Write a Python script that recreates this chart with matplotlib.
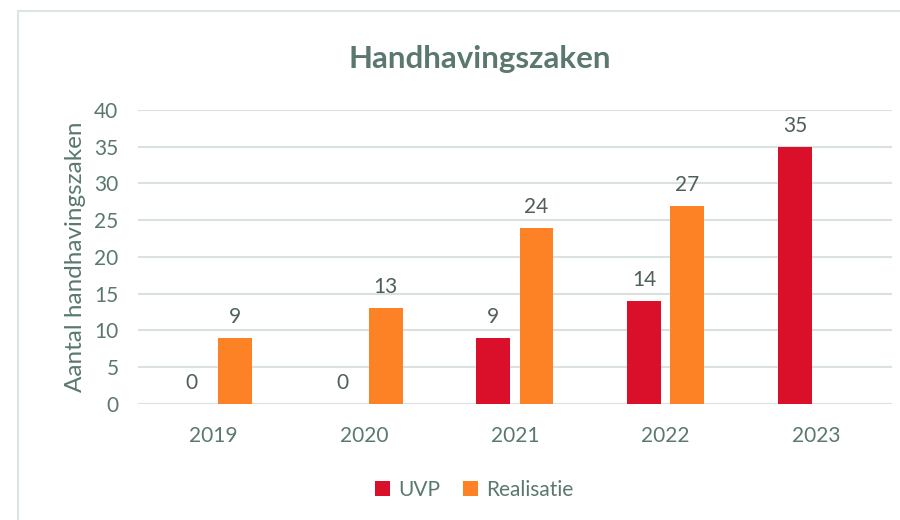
import matplotlib.pyplot as plt
import numpy as np
from matplotlib.lines import Line2D

# Data
years = ["2019", "2020", "2021", "2022", "2023"]
uvp = [0, 0, 9, 14, 35]
realisatie = [9, 13, 24, 27, None]

text_color = "#5b7870"
grid_color = "#d9e2de"
red = "#da0f2a"
orange = "#fd8226"

plt.rcParams['font.family'] = ['Lato', 'DejaVu Sans']

fig = plt.figure(figsize=(9, 5.2), dpi=100)
ax = fig.add_axes([0.1533, 0.2231, 0.8377, 0.5654])

# Outer chart border (top and left only visible)
bx, by = 18 / 900, 1 - 11 / 520
fig.lines.append(Line2D([bx, bx], [0, by], transform=fig.transFigure, color="#dde5e1", linewidth=1.5))
fig.lines.append(Line2D([bx, 1], [by, by], transform=fig.transFigure, color="#dde5e1", linewidth=1.5))

x = np.arange(len(years))
w = 0.225
off = 0.143

uvp_vals = [np.nan if v is None else v for v in uvp]
real_vals = [np.nan if v is None else v for v in realisatie]

b1 = ax.bar(x - off, uvp_vals, w, color=red, label="UVP", zorder=3)
b2 = ax.bar(x + off, real_vals, w, color=orange, label="Realisatie", zorder=3)

# Data labels
for xs, vals in ((x - off, uvp), (x + off, realisatie)):
    for xi, v in zip(xs, vals):
        if v is None:
            continue
        ax.text(xi, v + 1.5, str(v), ha="center", va="bottom", fontsize=15, color="#4f5f5a")

ax.set_xlim(-0.5, len(years) - 0.5)
ax.set_ylim(0, 40)
ax.set_yticks(range(0, 41, 5))
ax.set_xticks(x)
ax.set_xticklabels(years)
ax.yaxis.grid(True, color=grid_color, linewidth=1.5, zorder=0)
ax.tick_params(axis="both", length=0, labelsize=15, colors=text_color)
ax.tick_params(axis="x", pad=16)
ax.tick_params(axis="y", pad=14)
for s in ax.spines.values():
    s.set_visible(False)

ax.set_ylabel("Aantal handhavingszaken", fontsize=17.5, color=text_color, labelpad=6)

fig.text(0.533, 0.886, "Handhavingszaken", ha="center", va="center", fontsize=22.5,
         fontweight="bold", color=text_color)

fig.legend(handles=[b1, b2], loc="center", bbox_to_anchor=(0.527, 0.058), ncol=2, frameon=False,
           fontsize=15, labelcolor=text_color, handlelength=0.7, handleheight=0.7,
           handletextpad=0.4, columnspacing=1.1)

fig.savefig("out.png", dpi=100)
